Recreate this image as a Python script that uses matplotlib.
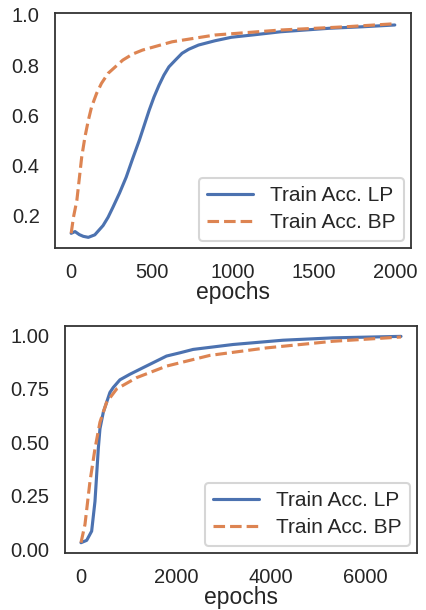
import matplotlib
matplotlib.use('Agg')
import matplotlib.pyplot as plt
import seaborn as sns

sns.set_theme(style='white', context='talk')
plt.rcParams['font.family'] = ['Liberation Sans', 'DejaVu Sans']

# top panel
ep_lp_top = [0, 24, 50, 75, 106, 146, 197, 228, 258, 299, 340, 380, 421, 482, 512, 543, 573,
             604, 644, 685, 726, 787, 888, 990, 1132, 1295, 1598, 1803, 2000]
acc_lp_top = [0.129, 0.136, 0.124, 0.117, 0.113, 0.123, 0.16, 0.193, 0.233, 0.29, 0.353, 0.427,
              0.5, 0.62, 0.673, 0.72, 0.76, 0.793, 0.82, 0.847, 0.863, 0.88, 0.897, 0.911,
              0.921, 0.933, 0.947, 0.953, 0.96]
ep_bp_top = [0, 14, 35, 65, 85, 106, 126, 157, 187, 228, 319, 380, 441, 624, 888, 1295, 1700, 2000]
acc_bp_top = [0.129, 0.193, 0.26, 0.433, 0.513, 0.58, 0.633, 0.687, 0.727, 0.767, 0.82, 0.844,
              0.86, 0.893, 0.92, 0.94, 0.953, 0.965]

# bottom panel
ep_lp_bot = [0, 120, 225, 295, 365, 400, 470, 610, 680, 821, 1032, 1312, 1522, 1804, 2084,
             2365, 3207, 4260, 5312, 6750]
acc_lp_bot = [0.031, 0.042, 0.085, 0.224, 0.47, 0.563, 0.64, 0.733, 0.756, 0.792, 0.818, 0.849,
              0.872, 0.903, 0.918, 0.934, 0.957, 0.977, 0.988, 0.995]
ep_bp_bot = [0, 84, 189, 295, 400, 540, 751, 1172, 1804, 2716, 3909, 5312, 6750]
acc_bp_bot = [0.031, 0.116, 0.316, 0.47, 0.594, 0.687, 0.749, 0.802, 0.856, 0.906, 0.941,
              0.972, 0.992]

blue = '#4C72B0'
orange = '#DD8452'
fs = 14.5

fig = plt.figure(figsize=(4.27, 6.10), dpi=100)
ax1 = fig.add_axes([0.1288, 0.5934, 0.8337, 0.3852])
ax2 = fig.add_axes([0.1522, 0.0934, 0.8244, 0.3721])

for ax, (x1, y1, x2, y2) in [(ax1, (ep_lp_top, acc_lp_top, ep_bp_top, acc_bp_top)),
                             (ax2, (ep_lp_bot, acc_lp_bot, ep_bp_bot, acc_bp_bot))]:
    ax.plot(x1, y1, color=blue, lw=2.25, label='Train Acc. LP')
    ax.plot(x2, y2, color=orange, lw=2.25, ls='--', label='Train Acc. BP')
    ax.set_xlabel('epochs', fontsize=16.5, labelpad=-1)
    ax.tick_params(labelsize=fs, pad=2)
    for s in ax.spines.values():
        s.set_linewidth(1.3)
        s.set_color('#333333')
    ax.legend(loc='lower right', fontsize=15, handlelength=2.2, borderaxespad=0.35,
              labelspacing=0.4)

ax1.set_yticks([0.2, 0.4, 0.6, 0.8, 1.0])
ax2.set_yticks([0.0, 0.25, 0.5, 0.75, 1.0])

fig.savefig('out.png', dpi=100)
